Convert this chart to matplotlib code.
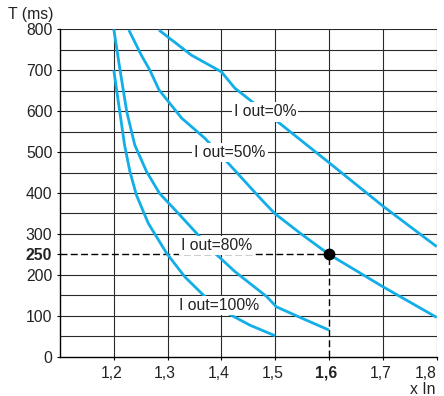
import matplotlib
matplotlib.use("Agg")
import matplotlib.pyplot as plt
import matplotlib.transforms as mtransforms
import numpy as np

plt.rcParams['font.family'] = ['Liberation Sans', 'DejaVu Sans']
plt.rcParams['lines.scale_dashes'] = False

# curve data (x In, T ms)
x_100 = [1.20, 1.211, 1.22, 1.23, 1.242, 1.264, 1.298, 1.332, 1.366, 1.406, 1.453, 1.50]
t_100 = [700, 599, 517, 452, 395, 326, 253, 195, 151, 110, 77, 51]

x_80 = [1.20, 1.211, 1.224, 1.239, 1.261, 1.285, 1.320, 1.357, 1.388, 1.425, 1.484, 1.502, 1.546, 1.60]
t_80 = [800, 705, 599, 517, 452, 399, 350, 297, 253, 208, 147, 122, 96, 65]

x_50 = [1.228, 1.251, 1.267, 1.284, 1.326, 1.369, 1.416, 1.475, 1.499, 1.546, 1.60, 1.70, 1.80]
t_50 = [798, 737, 700, 652, 583, 534, 468, 383, 350, 302, 250, 171, 96]

x_0 = [1.284, 1.344, 1.40, 1.425, 1.496, 1.601, 1.701, 1.80]
t_0 = [798, 737, 696, 656, 583, 473, 367, 269]

labels = ["I out=0%", "I out=50%", "I out=80%", "I out=100%"]

op_x = 1.6
op_t = 250

x_ticks = [1.2, 1.3, 1.4, 1.5, 1.6, 1.7, 1.8]
x_ticklabels = ["1,2", "1,3", "1,4", "1,5", "1,6", "1,7", "1,8"]
y_ticks = [0, 100, 200, 250, 300, 400, 500, 600, 700, 800]
y_ticklabels = ["0", "100", "200", "250", "300", "400", "500", "600", "700", "800"]
y_grid = list(range(50, 801, 50))

W, H = 444, 396
fig = plt.figure(figsize=(W / 100, H / 100), dpi=100)
ax = fig.add_axes([60 / W, 1 - 356.7 / H, (436.7 - 60) / W, (356.7 - 29.3) / H])
ax.set_xlim(1.1, 1.8)
ax.set_ylim(0, 800)

grid_c = '#2a2a2a'
glw = 0.8
for yv in y_grid:
    if yv == op_t:
        ax.hlines(yv, 1.1, op_x, colors='black', lw=1.0, linestyles=(0, (5, 2.4)), zorder=2)
        ax.hlines(yv, op_x, 1.8, colors=grid_c, lw=glw, zorder=1)
    else:
        ax.axhline(yv, color=grid_c, lw=glw, zorder=1)
for xv in x_ticks:
    if abs(xv - op_x) < 1e-9:
        ax.vlines(xv, 0, op_t, colors='black', lw=1.0, linestyles=(0, (5, 2.4)), zorder=2)
        ax.vlines(xv, op_t, 800, colors=grid_c, lw=glw, zorder=1)
    else:
        ax.axvline(xv, color=grid_c, lw=glw, zorder=1)

blue = '#11aee8'
for xs, ts in [(x_100, t_100), (x_80, t_80), (x_50, t_50), (x_0, t_0)]:
    ax.plot(xs, ts, color=blue, lw=2.0, solid_capstyle='butt', zorder=3)

ax.plot([op_x], [op_t], 'o', color='black', ms=7.5, zorder=5)

fs = 11.3
bbox = dict(facecolor='white', edgecolor='none', pad=1.5)
label_pos = [(1.481, 598), (1.416, 498), (1.391, 272), (1.396, 125)]
for lab, (lx, ly) in zip(labels, label_pos):
    ax.text(lx, ly, lab, ha='center', va='center', fontsize=fs, color='#222222',
            bbox=bbox, zorder=4)

for s in ['top', 'right']:
    ax.spines[s].set_visible(False)
for s in ['left', 'bottom']:
    ax.spines[s].set_color('black')
    ax.spines[s].set_linewidth(1.0)

ax.set_xticks(x_ticks)
ax.set_xticklabels(x_ticklabels)
ax.set_yticks(y_ticks)
ax.set_yticklabels(y_ticklabels)
ax.tick_params(axis='both', direction='out', length=2.5, width=0.8, labelsize=fs,
               colors='black', labelcolor='#222222')
ax.tick_params(axis='y', pad=3)
ax.tick_params(axis='x', pad=4)

shift = mtransforms.ScaledTranslation(-2.5 / 100, 0, fig.dpi_scale_trans)
for tl in ax.get_xticklabels():
    txt = tl.get_text()
    if txt == "1,6":
        tl.set_fontweight('bold')
    if txt == "1,8":
        tl.set_horizontalalignment('right')
    else:
        tl.set_transform(tl.get_transform() + shift)
for tl in ax.get_yticklabels():
    if tl.get_text() == "250":
        tl.set_fontweight('bold')

fig.text(8 / W, 1 - 14 / H, "T (ms)", ha='left', va='center', fontsize=fs, color='#222222')
fig.text(435 / W, 1 - 389 / H, "x In", ha='right', va='center', fontsize=fs, color='#222222')

fig.savefig("out.png", dpi=100)
